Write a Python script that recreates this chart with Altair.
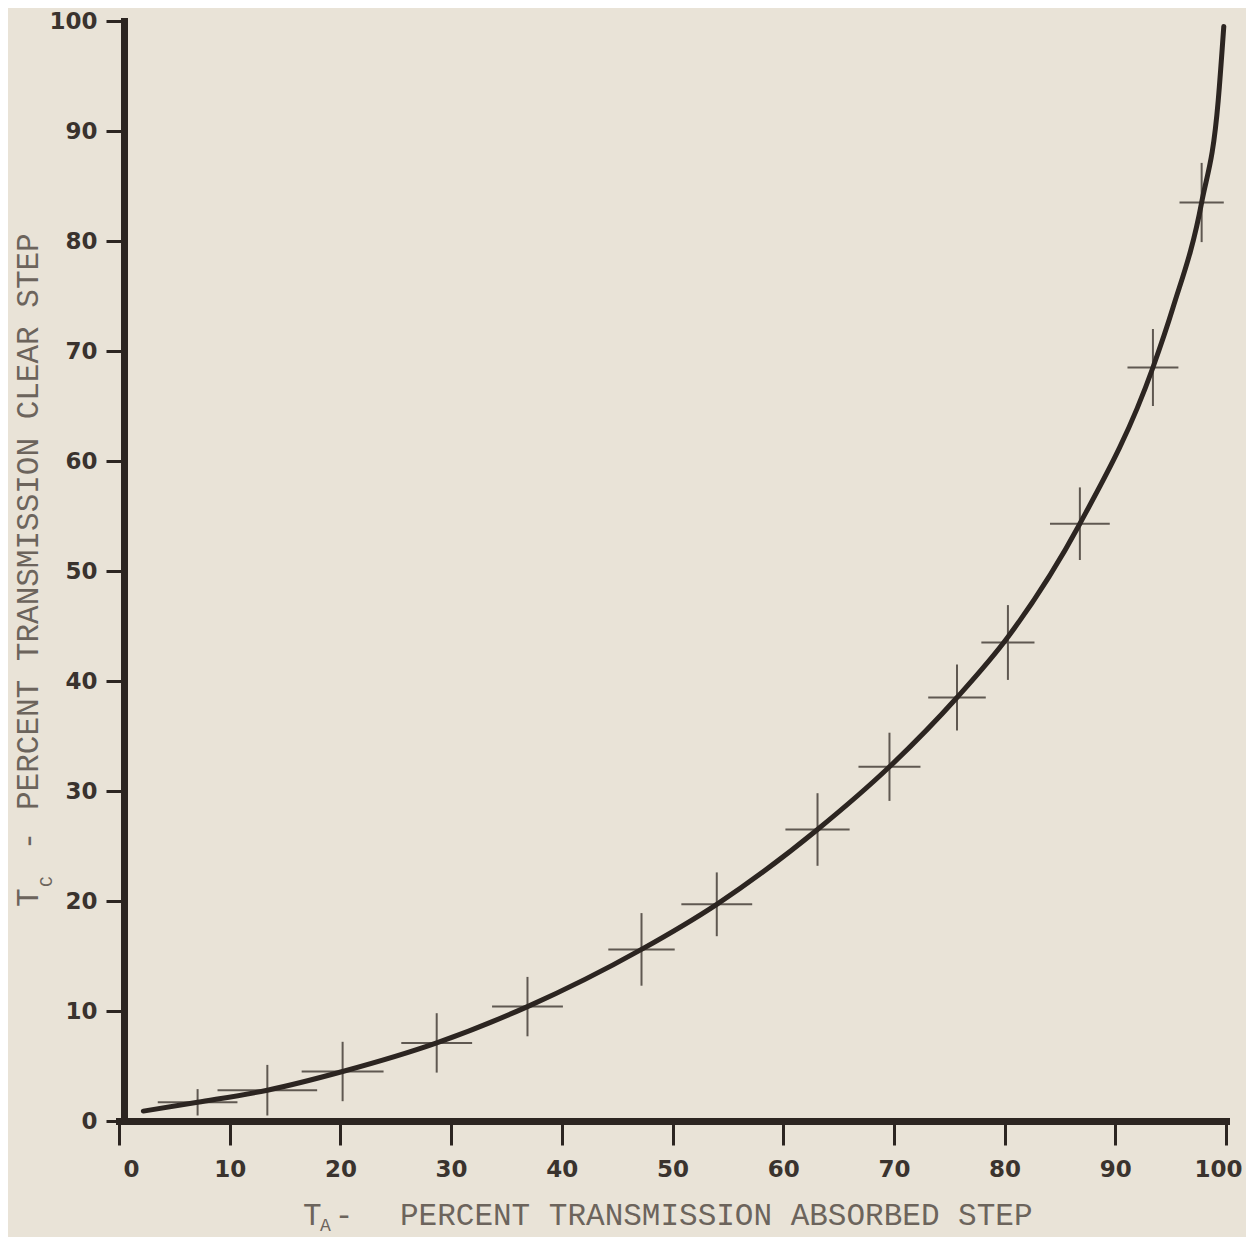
import altair as alt
import pandas as pd

# ---- data ----
# measured points (crosses): centre and half-lengths of the bars
ta_points = [7.1, 13.4, 20.2, 28.7, 36.9, 47.2, 54.0, 63.1, 69.6, 75.7, 80.3, 86.8, 93.4, 97.8]
tc_points = [1.7, 2.8, 4.5, 7.1, 10.4, 15.6, 19.7, 26.5, 32.2, 38.5, 43.5, 54.3, 68.5, 83.5]
ta_err = [3.6, 4.5, 3.7, 3.2, 3.2, 3.0, 3.2, 2.9, 2.8, 2.6, 2.4, 2.7, 2.3, 2.0]
tc_err = [1.2, 2.3, 2.7, 2.7, 2.7, 3.3, 2.9, 3.3, 3.1, 3.0, 3.4, 3.3, 3.5, 3.6]

# fitted curve
curve_ta = [2.2, 7.1, 13.4, 20.2, 28.7, 36.9, 47.2, 54.0, 63.1, 69.6, 75.7, 80.3, 86.8, 93.4, 95.2, 97.8, 99.3, 99.8]
curve_tc = [0.9, 1.7, 2.8, 4.5, 7.1, 10.4, 15.6, 19.7, 26.5, 32.2, 38.5, 44.0, 54.3, 68.5, 73.9, 83.5, 92.8, 99.5]

tick_values = [0, 10, 20, 30, 40, 50, 60, 70, 80, 90, 100]

x_title_main = "PERCENT TRANSMISSION ABSORBED STEP"
y_title_main = "PERCENT TRANSMISSION CLEAR STEP"

# ---- styling ----
PAPER = "#e9e3d7"
INK = "#2c2521"
CROSS = "#5f5851"
LABEL = "#3a332e"
TITLE = "#6c645c"
TITLE_FONT = "Liberation Mono"

pts = pd.DataFrame({"x": ta_points, "y": tc_points, "xerr": ta_err, "yerr": tc_err})
pts["x_lo"] = pts["x"] - pts["xerr"]
pts["x_hi"] = pts["x"] + pts["xerr"]
pts["y_lo"] = pts["y"] - pts["yerr"]
pts["y_hi"] = pts["y"] + pts["yerr"]

curve_df = pd.DataFrame({"x": curve_ta, "y": curve_tc})

xscale = alt.Scale(domain=[0, 100], nice=False, zero=False)
yscale = alt.Scale(domain=[0, 100], nice=False, zero=False)
xaxis = alt.Axis(
    values=tick_values, title="", labelFlush=False, tickSize=24,
    labelPadding=13, labelOverlap=False,
    labelOffset={
        "condition": [
            {"test": "datum.value == 0", "value": 12},
            {"test": "datum.value == 100", "value": -8},
        ],
        "value": 0,
    },
)
yaxis = alt.Axis(values=tick_values, title="", offset=-5, tickSize=18,
                 labelPadding=9, labelOverlap=False)

curve = alt.Chart(curve_df).mark_line(
    interpolate="monotone", strokeWidth=5, color=INK, strokeCap="round"
).encode(
    x=alt.X("x:Q", scale=xscale, axis=xaxis),
    y=alt.Y("y:Q", scale=yscale, axis=yaxis),
)

hbars = alt.Chart(pts).mark_rule(strokeWidth=2, color=CROSS).encode(
    x=alt.X("x_lo:Q", scale=xscale, axis=xaxis),
    x2="x_hi:Q",
    y=alt.Y("y:Q", scale=yscale, axis=yaxis),
)

vbars = alt.Chart(pts).mark_rule(strokeWidth=2, color=CROSS).encode(
    x=alt.X("x:Q", scale=xscale, axis=xaxis),
    y=alt.Y("y_lo:Q", scale=yscale, axis=yaxis),
    y2="y_hi:Q",
)


def label(text, x, y, size, angle=0, align="left"):
    return alt.Chart(pd.DataFrame({"t": [text]})).mark_text(
        font=TITLE_FONT, fontSize=size, color=TITLE, align=align,
        baseline="alphabetic", angle=angle,
    ).encode(x=alt.value(x), y=alt.value(y), text="t:N")


texts = [
    # x-axis title: T_A - PERCENT TRANSMISSION ABSORBED STEP
    label("T", 184, 1204, 31),
    label("A", 201, 1210, 18),
    label("-", 225, 1204, 31, align="center"),
    label(x_title_main, 281, 1204, 31),
    # y-axis title: T_C - PERCENT TRANSMISSION CLEAR STEP
    label("T", -81, 886, 31, angle=270),
    label("C", -67, 866, 18, angle=270),
    label("-", -81, 820, 31, angle=270, align="center"),
    label(y_title_main, -81, 789, 31, angle=270),
]

chart = alt.layer(hbars, vbars, curve, *texts).properties(
    width=1107,
    height=1100,
    padding={"left": 111, "top": 13, "right": 20, "bottom": 116},
    autosize=alt.AutoSizeParams(type="none"),
    background=PAPER,
).configure_view(
    strokeWidth=0
).configure_axis(
    grid=False,
    domainColor=INK,
    domainWidth=7,
    domainCap="square",
    tickColor=INK,
    tickWidth=3,
    labelFont="DejaVu Sans",
    labelFontWeight="bold",
    labelFontSize=23,
    labelColor=LABEL,
)

chart.save("out.html", embed_options={"renderer": "svg", "actions": False})
